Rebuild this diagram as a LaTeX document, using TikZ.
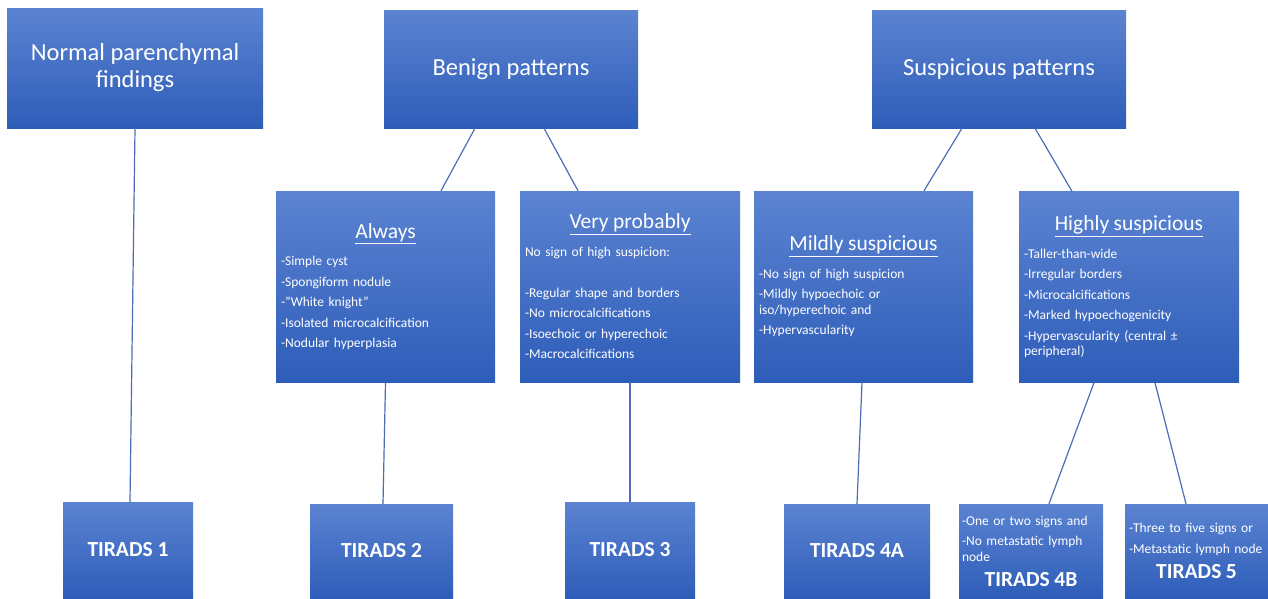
\documentclass[tikz,border=0pt]{standalone}
\usepackage{fontspec}
\setmainfont{Carlito}
\definecolor{boxTop}{HTML}{5B83D1}
\definecolor{boxBottom}{HTML}{2E5DB9}
\definecolor{linkBlue}{HTML}{4A6DB5}
\newcommand{\headFont}{\fontsize{24.5}{27}\selectfont}
\newcommand{\subFont}{\fontsize{21.5}{24}\selectfont}
\newcommand{\listFont}{\fontsize{13.5}{15.5}\selectfont\parindent=0pt\parskip=5pt\raggedright}
\newcommand{\gradeFont}{\fontsize{21.5}{20}\selectfont\bfseries}

\begin{document}
\begin{tikzpicture}[x=1pt, y=-1pt]
	\tikzstyle{boxStyle}=[rectangle, inner sep=0pt, top color=boxTop, bottom color=boxBottom, text=white, draw=none]
	\tikzstyle{topStyle}=[boxStyle, minimum width=254pt, minimum height=118pt, align=center, font=\headFont]
	\tikzstyle{midStyle}=[boxStyle, minimum height=191pt, inner xsep=5pt, text width=210pt, font=\listFont]
	\tikzstyle{gradeStyle}=[boxStyle, minimum height=95pt, font=\gradeFont]
	\tikzstyle{signStyle}=[boxStyle, minimum height=95pt, inner xsep=3pt, text width=138pt, font=\listFont]
	\tikzstyle{linkStyle}=[draw=linkBlue, line width=1.2pt]
	\useasboundingbox (0,0) rectangle (1268,598);
	\node[topStyle, minimum width=256pt, minimum height=120pt] (normal) at (135,68) {Normal parenchymal\\findings};
	\node[topStyle] (benign) at (511,69) {Benign patterns};
	\node[topStyle] (suspicious) at (999,69) {Suspicious patterns};
	\node[midStyle, text width=209pt] (always) at (385.5,286.5) {{\centering\subFont\underline{Always}\par}\vskip7pt
		-Simple cyst\par -Spongiform nodule\par -”White knight”\par -Isolated microcalcification\par -Nodular hyperplasia\par};
	\node[midStyle] (veryProbable) at (630,286.5) {{\centering\subFont\underline{Very probably}\par}\vskip7pt
		No sign of high suspicion:\par \mbox{}\par -Regular shape and borders\par -No microcalcifications\par -Isoechoic or hyperechoic\par -Macrocalcifications\par};
	\node[midStyle, text width=209pt] (mild) at (863.5,286.5) {{\centering\subFont\underline{Mildly suspicious}\par}\vskip7pt
		-No sign of high suspicion\par -Mildly hypoechoic or\newline iso/hyperechoic and\par -Hypervascularity\par};
	\node[midStyle] (high) at (1129,287) {{\centering\subFont\underline{Highly suspicious}\par}\vskip7pt
		-Taller-than-wide\par -Irregular borders\par -Microcalcifications\par -Marked hypoechogenicity\par -Hypervascularity (central ±\newline peripheral)\par};
	\node[gradeStyle, minimum width=130pt, minimum height=96pt] (tirads1) at (128,550) {TIRADS 1};
	\node[gradeStyle, minimum width=143pt, minimum height=94pt] (tirads2) at (381.5,551) {TIRADS 2};
	\node[gradeStyle, minimum width=130pt, minimum height=96pt] (tirads3) at (630,550) {TIRADS 3};
	\node[gradeStyle, minimum width=146pt, minimum height=94pt] (tirads4a) at (857,551) {TIRADS 4A};
	\node[signStyle, minimum height=94pt] (tirads4b) at (1031,551) {-One or two signs and\par -No metastatic lymph\newline node\par
		{\centering\gradeFont TIRADS 4B\par}};
	\node[signStyle, minimum height=94pt, inner xsep=4pt, text width=135pt] (tirads5) at (1196.5,551) {-Three to five signs or\par -Metastatic lymph node\par
		{\centering\gradeFont TIRADS 5\par}};
	\draw[linkStyle] (normal.south) -- ([xshift=2pt]tirads1.north);
	\draw[linkStyle] ([xshift=-36pt]benign.south) -- ([xshift=55.5pt]always.north);
	\draw[linkStyle] ([xshift=33pt]benign.south) -- ([xshift=-52pt]veryProbable.north);
	\draw[linkStyle] ([xshift=-37pt]suspicious.south) -- ([xshift=60.5pt]mild.north);
	\draw[linkStyle] ([xshift=36pt]suspicious.south) -- ([xshift=-57pt]high.north);
	\draw[linkStyle] (always.south) -- ([xshift=1.5pt]tirads2.north);
	\draw[linkStyle] (veryProbable.south) -- (tirads3.north);
	\draw[linkStyle] ([xshift=-1.5pt]mild.south) -- (tirads4a.north);
	\draw[linkStyle] ([xshift=-35pt]high.south) -- ([xshift=18pt]tirads4b.north);
	\draw[linkStyle] ([xshift=26pt]high.south) -- ([xshift=-10.5pt]tirads5.north);
\end{tikzpicture}
\end{document}
